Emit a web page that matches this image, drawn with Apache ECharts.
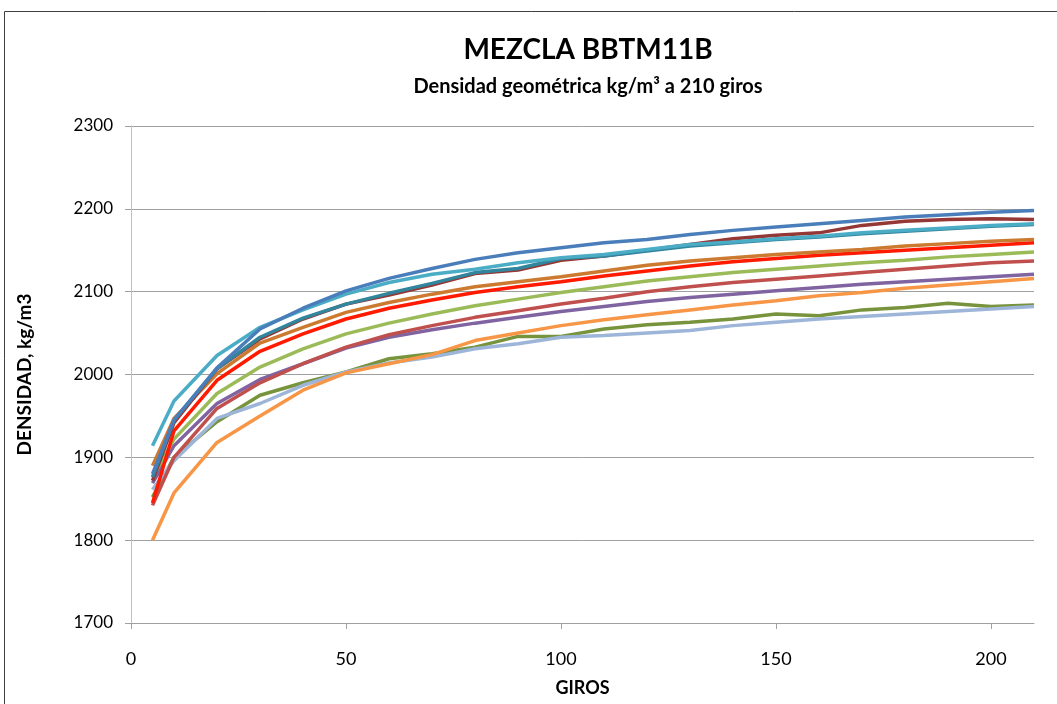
<!DOCTYPE html>
<html>
<head>
<meta charset="utf-8">
<script src="https://cdn.jsdelivr.net/npm/echarts@6/dist/echarts.min.js"></script>
<style>
html,body{margin:0;padding:0;background:#fff;}
#chart{width:1057px;height:704px;}
</style>
</head>
<body>
<div id="chart"></div>
<script>
var giros = [5,10,20,30,40,50,60,70,80,90,100,110,120,130,140,150,160,170,180,190,200,210];

var serieAzul       = [1880,1945,2008,2055,2080,2101,2116,2128,2139,2147,2153,2159,2163,2169,2174,2178,2182,2186,2190,2193,2196,2198];
var serieGranate    = [1872,1942,2007,2043,2067,2085,2096,2108,2122,2126,2138,2143,2150,2157,2164,2168,2171,2180,2185,2187,2188,2187];
var serieTurquesa   = [1876,1945,2007,2045,2068,2085,2098,2110,2123,2128,2140,2143,2149,2155,2159,2163,2166,2170,2173,2176,2179,2181];
var serieCian       = [1914,1968,2023,2057,2078,2097,2111,2121,2127,2135,2141,2145,2151,2157,2160,2164,2167,2171,2174,2177,2180,2182];
var serieMarron     = [1890,1947,2001,2038,2057,2075,2087,2097,2106,2112,2118,2125,2132,2137,2141,2145,2148,2151,2155,2158,2161,2163];
var serieRoja       = [1845,1932,1993,2028,2049,2067,2080,2090,2099,2106,2112,2119,2125,2131,2136,2140,2144,2147,2150,2153,2156,2159];
var serieVerde      = [1876,1922,1977,2009,2031,2049,2062,2073,2083,2091,2099,2106,2113,2118,2123,2127,2131,2135,2138,2142,2145,2148];
var serieTeja       = [1842,1900,1959,1990,2013,2033,2048,2059,2069,2077,2085,2092,2100,2106,2111,2115,2119,2123,2127,2131,2135,2137];
var serieMorada     = [1869,1914,1965,1994,2013,2032,2045,2054,2062,2069,2076,2082,2088,2093,2097,2101,2105,2109,2112,2115,2118,2121];
var serieNaranja    = [1800,1857,1918,1950,1981,2002,2013,2024,2041,2050,2059,2066,2072,2078,2084,2089,2095,2099,2104,2108,2112,2116];
var serieOliva      = [1852,1900,1943,1975,1990,2003,2019,2025,2033,2046,2046,2055,2060,2063,2067,2073,2071,2078,2081,2086,2082,2084];
var serieCeleste    = [1861,1896,1947,1965,1987,2003,2014,2021,2031,2037,2045,2047,2050,2053,2059,2063,2067,2070,2073,2076,2079,2082];

var yTicks = [1700,1800,1900,2000,2100,2200,2300];
var xTicks = [0,50,100,150,200];

var seriesDefs = [
  {name:'Oliva', data:serieOliva, color:'#77933C'},
  {name:'Celeste', data:serieCeleste, color:'#9DB5D9'},
  {name:'Naranja', data:serieNaranja, color:'#F79646'},
  {name:'Morada', data:serieMorada, color:'#8064A2'},
  {name:'Teja', data:serieTeja, color:'#C0504D'},
  {name:'Verde', data:serieVerde, color:'#9BBB59'},
  {name:'Roja', data:serieRoja, color:'#FF1A00'},
  {name:'Marron', data:serieMarron, color:'#CC7A30'},
  {name:'Granate', data:serieGranate, color:'#953735'},
  {name:'Turquesa', data:serieTurquesa, color:'#31859C'},
  {name:'Cian', data:serieCian, color:'#4BACC6'},
  {name:'Azul', data:serieAzul, color:'#4A7EBB'}
];

var FONT = 'Lato, "Open Sans", sans-serif';

var chart = echarts.init(document.getElementById('chart'), null, {renderer:'canvas'});
chart.setOption({
  animation:false,
  backgroundColor:'#fff',
  graphic:[{
    type:'rect', silent:true, z:-1,
    shape:{x:4.5, y:11.5, width:1100, height:800},
    style:{fill:'none', stroke:'#3f3f3f', lineWidth:1}
  }],
  title:[
    {text:'MEZCLA BBTM11B', left:583, top:31, textAlign:'center',
     textStyle:{fontFamily:FONT, fontSize:28, fontWeight:'bold', color:'#000'}},
    {text:'Densidad geométrica kg/m³ a 210 giros', left:583, top:72, textAlign:'center',
     textStyle:{fontFamily:FONT, fontSize:20, fontWeight:'bold', color:'#000'}}
  ],
  grid:{left:131, right:23, top:126, bottom:81, containLabel:false},
  xAxis:{
    type:'value', min:0, max:210, interval:50,
    name:'GIROS', nameLocation:'middle', nameGap:56,
    nameTextStyle:{fontFamily:FONT, fontSize:18, fontWeight:'bold', color:'#000'},
    axisLine:{show:true, lineStyle:{color:'#A0A0A0', width:1}},
    axisTick:{show:true, inside:false, length:6, customValues:xTicks, lineStyle:{color:'#A0A0A0'}},
    axisLabel:{customValues:xTicks, margin:27, fontFamily:FONT, fontSize:18, color:'#000',
      formatter:function(v){return String(v);}},
    splitLine:{show:false}
  },
  yAxis:{
    type:'value', min:1700, max:2300, interval:100,
    name:'DENSIDAD, kg/m3', nameLocation:'middle', nameGap:97, nameRotate:90,
    nameTextStyle:{fontFamily:FONT, fontSize:19, fontWeight:'bold', color:'#000'},
    axisLine:{show:true, lineStyle:{color:'#C0C0C0', width:1}},
    axisTick:{show:true, length:6, lineStyle:{color:'#A0A0A0'}},
    axisLabel:{margin:18, fontFamily:FONT, fontSize:17, color:'#000',
      customValues:yTicks, formatter:function(v){return String(v);}},
    splitLine:{show:true, lineStyle:{color:'#A0A0A0', width:1}}
  },
  series: seriesDefs.map(function(s){
    return {
      name:s.name, type:'line', showSymbol:false, symbol:'none',
      data: giros.map(function(g,i){return [g, s.data[i]];}),
      lineStyle:{color:s.color, width:3.5},
      itemStyle:{color:s.color},
      clip:true
    };
  })
});
</script>
</body>
</html>
